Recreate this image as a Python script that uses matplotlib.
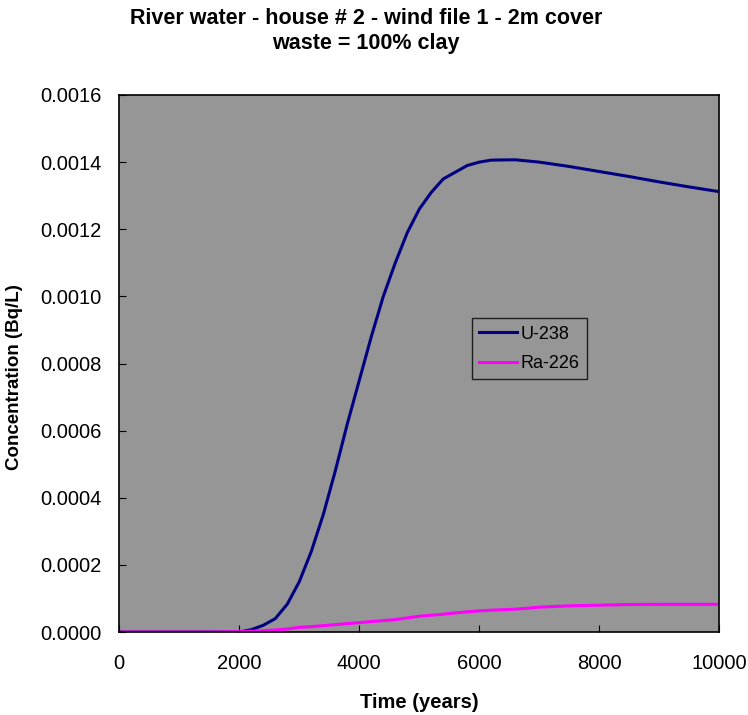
import numpy as np
import matplotlib
matplotlib.use('Agg')
import matplotlib.pyplot as plt

plt.rcParams['font.family'] = ['Liberation Sans', 'DejaVu Sans']

# time (years)
years = [0, 500, 1000, 1500, 2000, 2200, 2400, 2600, 2800, 3000, 3200, 3400,
         3600, 3800, 4000, 4200, 4400, 4600, 4800, 5000, 5200, 5400, 5600,
         5800, 6000, 6200, 6600, 7000, 7500, 8000, 8500, 9000, 9500, 10000]

# concentration (Bq/L)
u238 = [0, 0, 0, 0, 0, 0.000007, 0.00002, 0.00004, 0.000083, 0.00015, 0.00024,
        0.00035, 0.00048, 0.00062, 0.00075, 0.00088, 0.001, 0.0011, 0.00119,
        0.00126, 0.00131, 0.00135, 0.00137, 0.00139, 0.0014, 0.001406,
        0.001407, 0.0014, 0.001387, 0.001372, 0.001357, 0.001341, 0.001326,
        0.001312]

ra226 = [0, 0, 0, 0, 0.000001, 0.000002, 0.000004, 0.000006, 0.000009,
         0.000014, 0.000016, 0.000019, 0.000022, 0.000025, 0.000028, 0.000031,
         0.000034, 0.000037, 0.000042, 0.000047, 0.00005, 0.000053, 0.000057,
         0.00006, 0.000063, 0.000065, 0.000068, 0.000074, 0.000078, 0.00008,
         0.000082, 0.0000825, 0.0000825, 0.0000825]

W, H = 748, 715
fig = plt.figure(figsize=(W / 100, H / 100), dpi=100)
left, right, top, bottom = 119.3, 719.3, 95, 632
ax = fig.add_axes([left / W, 1 - bottom / H, (right - left) / W, (bottom - top) / H])
ax.set_facecolor('#969696')

ax.plot(years, u238, color='#000080', linewidth=2.2, label='U-238')
ax.plot(years, ra226, color='#ff00ff', linewidth=2.2, label='Ra-226')

ax.set_xlim(0, 10000)
ax.set_ylim(0, 0.0016)
ax.set_xticks(np.arange(0, 10001, 2000))
yt = np.arange(0, 0.00161, 0.0002)
ax.set_yticks(yt)
ax.set_yticklabels(['%.4f' % v for v in yt])
ax.tick_params(direction='in', length=5, labelsize=14.5)
ax.tick_params(axis='y', pad=12.7)
ax.tick_params(axis='x', pad=16)
for s in ax.spines.values():
    s.set_linewidth(1.2)

ax.set_xlabel('Time (years)', fontsize=14.5, fontweight='bold', va='center')
ax.xaxis.set_label_coords(0.5, (bottom - 703) / (bottom - top))
ax.set_ylabel('Concentration (Bq/L)', fontsize=13.5, fontweight='bold', va='center')
ax.yaxis.set_label_coords((15 - left) / (right - left), (bottom - 377) / (bottom - top))

fig.text(366 / W, 1 - 31 / H, 'River water - house # 2 - wind file 1 - 2m cover\nwaste = 100% clay',
         ha='center', va='center', fontsize=15.5, fontweight='bold', linespacing=1.3)

leg = ax.legend(loc='upper left',
                bbox_to_anchor=((471.7 - left) / (right - left), (bottom - 318.3) / (bottom - top)),
                fontsize=13, frameon=True, fancybox=False, handlelength=2.1,
                borderpad=0.4, labelspacing=0.7, handletextpad=0.2, borderaxespad=0)
leg.get_frame().set_facecolor('#969696')
leg.get_frame().set_edgecolor('black')
leg.get_frame().set_linewidth(1)

fig.savefig('out.png', dpi=100)
